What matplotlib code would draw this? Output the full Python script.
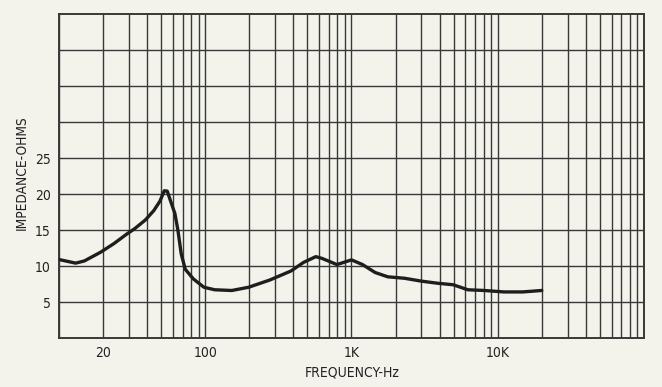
import matplotlib
matplotlib.use("Agg")
import matplotlib.pyplot as plt
from matplotlib.ticker import FixedLocator, NullFormatter, LogLocator

freq_hz = [10, 13, 14.9, 19.2, 23.7, 28.9, 33, 39, 44.5, 49, 52.5, 55, 58, 62, 65, 68.5,
           73, 83, 98, 116, 152, 198, 276, 385, 470, 570, 630, 795, 1000, 1190, 1450,
           1770, 2300, 3000, 3900, 4950, 6250, 8100, 11000, 14800, 20000]
impedance_ohms = [10.9, 10.4, 10.7, 11.9, 13.1, 14.4, 15.2, 16.4, 17.7, 19.0, 20.45, 20.4,
                  19.0, 17.3, 15.0, 11.7, 9.55, 8.2, 7.05, 6.7, 6.6, 7.05, 8.05, 9.3, 10.5,
                  11.3, 11.05, 10.2, 10.85, 10.2, 9.1, 8.5, 8.3, 7.9, 7.6, 7.4, 6.7, 6.6,
                  6.4, 6.4, 6.6]

x_tick_values = [20, 100, 1000, 10000]
x_tick_labels = ["20", "100", "1K", "10K"]
y_tick_values = [5, 10, 15, 20, 25]
y_tick_labels = ["5", "10", "15", "20", "25"]
y_grid_values = [5, 10, 15, 20, 25, 30, 35, 40]

bg = "#f3f3ec"
ink = "#222222"
grid_c = "#383838"

fig = plt.figure(figsize=(6.62, 3.87), dpi=100, facecolor=bg)
ax = fig.add_axes([0.0891, 0.1266, 0.9728 - 0.0891, 0.9638 - 0.1266])
ax.set_facecolor(bg)
ax.set_xscale("log")
ax.set_xlim(10, 100000)
ax.set_ylim(0, 45)

ax.xaxis.set_major_locator(FixedLocator(x_tick_values))
ax.xaxis.set_minor_locator(LogLocator(base=10, subs=range(1, 10), numticks=50))
ax.xaxis.set_minor_formatter(NullFormatter())
ax.set_xticklabels(x_tick_labels)
ax.yaxis.set_major_locator(FixedLocator(y_tick_values))
ax.set_yticklabels(y_tick_labels)
ax.grid(which="both", axis="x", color=grid_c, linewidth=1.0)
for yv in y_grid_values:
    ax.axhline(yv, color=grid_c, linewidth=1.0, zorder=1)

ax.tick_params(which="both", length=0, colors=ink, labelsize=10, pad=6)
for lab in ax.get_xticklabels() + ax.get_yticklabels():
    lab.set_fontstretch("condensed")
    lab.set_color(ink)
for s in ax.spines.values():
    s.set_color(grid_c)
    s.set_linewidth(1.4)

ax.plot(freq_hz, impedance_ohms, color="#1e1e1e", linewidth=2.4, zorder=3,
        solid_joinstyle="round", solid_capstyle="round")

fig.text(0.0335, 0.555, "IMPEDANCE-OHMS", rotation=90, ha="center", va="center",
         fontsize=9.8, color=ink, fontstretch="condensed")
fig.text(0.532, 0.038, "FREQUENCY-Hz", ha="center", va="center",
         fontsize=10, color=ink, fontstretch="condensed")

fig.savefig("out.png", dpi=100, facecolor=bg)
